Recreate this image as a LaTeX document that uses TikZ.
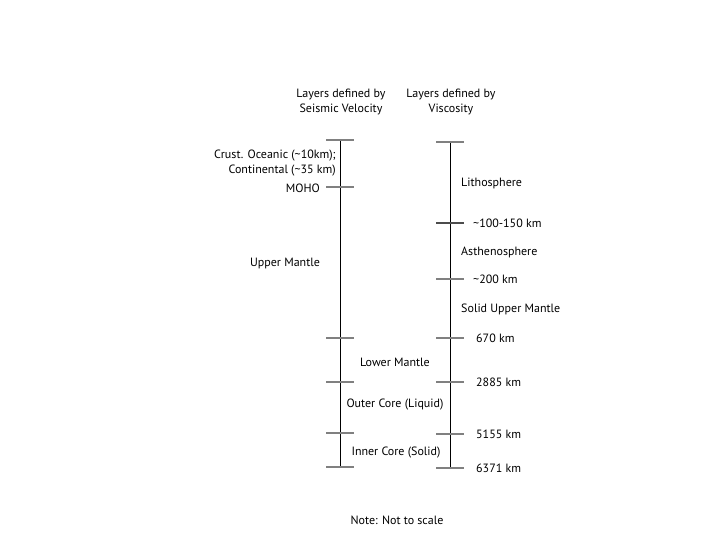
\documentclass[tikz,border=0pt]{standalone}
\usepackage{fontspec}
\setmainfont{PT Sans}
\usetikzlibrary{calc}
\begin{document}
\begin{tikzpicture}[x=1pt,y=-1pt,every node/.style={font=\fontsize{12}{15}\selectfont,inner sep=0pt}]
\useasboundingbox (0,0) rectangle (720,540);
% the two columns
\coordinate (sTop) at (340,140);
\coordinate (sBot) at (340,468);
\coordinate (vTop) at (450,142);
\coordinate (vBot) at (450,468);
\draw[line width=0.9pt] (sTop) -- (sBot);
\draw[line width=0.9pt] (vTop) -- (vBot);
\foreach \i/\y in {0/140,1/187,2/338,3/382,4/433,5/467}
  {\coordinate (s\i) at (340,\y);
   \draw[gray,line width=1.3pt] (s\i) ++(-14,0) -- ++(28,0);}
\foreach \i/\y in {0/142,2/279,3/338,4/382,5/434,6/468}
  {\coordinate (v\i) at (450,\y);
   \draw[gray,line width=1.3pt] (v\i) ++(-14,0) -- ++(28,0);}
\coordinate (v1) at (450,223);
\draw[black!70,line width=2pt] (v1) ++(-14,0) -- ++(28,0);
% headings
\node[align=center] (hSeis) at (341,102) {Layers defined by\\Seismic Velocity};
\node[align=center] (hVisc) at (451,102) {Layers defined by\\Viscosity};
% seismic velocity layers
\node[anchor=east,align=right] (crust) at (336,163) {Crust. Oceanic (\textasciitilde10km);\\Continental (\textasciitilde35 km)};
\node[anchor=east] (moho) at (320,188) {MOHO};
\node (upper) at (285,263) {Upper Mantle};
\node (lower) at (395,362) {Lower Mantle};
\node (outer) at (395,405) {Outer Core (Liquid)};
\node (inner) at (396,453) {Inner Core (Solid)};
% viscosity layers
\node[anchor=west] (litho) at (461,183) {Lithosphere};
\node[anchor=west] (asth) at (461,252) {Asthenosphere};
\node[anchor=west] (solid) at (461,309) {Solid Upper Mantle};
\foreach \i/\d in {1/\textasciitilde100-150 km,2/\textasciitilde200 km}
  \node[anchor=west] (d\i) at ($(v\i)+(23,0)$) {\d};
\foreach \i/\d in {3/670 km,4/2885 km,5/5155 km,6/6371 km}
  \node[anchor=west] (d\i) at ($(v\i)+(26,0)$) {\d};
\node (note) at (397,520) {Note: Not to scale};
\end{tikzpicture}
\end{document}
